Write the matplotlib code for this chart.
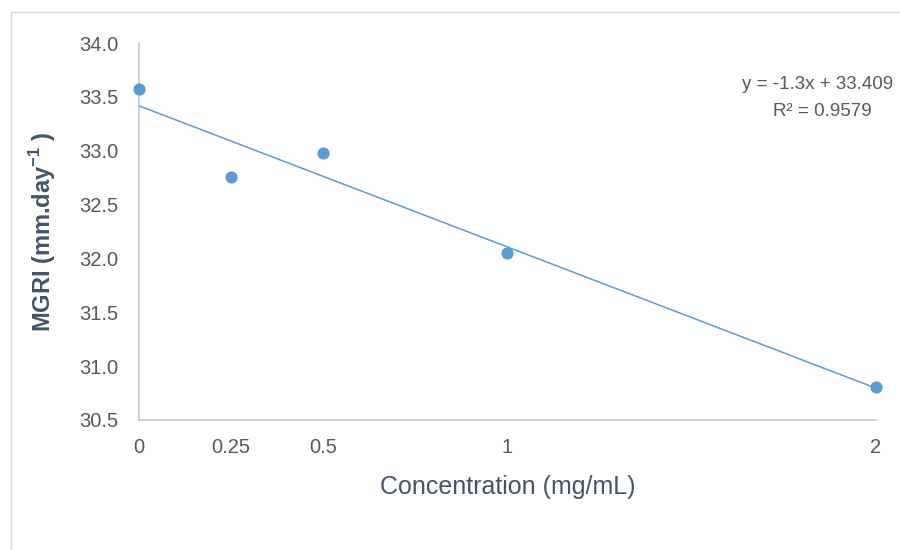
import numpy as np
import matplotlib.pyplot as plt
from matplotlib.patches import Rectangle

plt.rcParams['font.family'] = ['Liberation Sans', 'DejaVu Sans']

# Data
conc = [0, 0.25, 0.5, 1, 2]
mgri = [33.57, 32.76, 32.98, 32.05, 30.81]
x_ticks = [0, 0.25, 0.5, 1, 2]
x_tick_labels = ['0', '0.25', '0.5', '1', '2']
y_ticks = [30.5, 31.0, 31.5, 32.0, 32.5, 33.0, 33.5, 34.0]
eq_text = 'y = -1.3x + 33.409'
r2_text = 'R² = 0.9579'

blue = '#5B9BD5'
tick_col = '#595959'
label_col = '#44546A'

fig = plt.figure(figsize=(9, 5.5), dpi=100)
ax = fig.add_axes([0.1544, 0.2364, 0.8189, 0.6854])

# Linear trendline from the data
slope, intercept = np.polyfit(conc, mgri, 1)
xs = np.array([min(conc), max(conc)])
ax.plot(xs, slope * xs + intercept, color=blue, lw=1.1, clip_on=False)

ax.scatter(conc, mgri, s=60, color=blue, zorder=3, clip_on=False)

ax.set_xlim(0, 2)
ax.set_ylim(30.5, 34.0)
ax.set_xticks(x_ticks)
ax.set_xticklabels(x_tick_labels)
ax.set_yticks(y_ticks)
ax.set_yticklabels([f'{v:.1f}' for v in y_ticks])
ax.tick_params(length=0, labelsize=14.5, colors=tick_col)
ax.tick_params(axis='x', pad=13)
ax.tick_params(axis='y', pad=15)

for s in ['top', 'right']:
    ax.spines[s].set_visible(False)
for s in ['left', 'bottom']:
    ax.spines[s].set_color('#BFC8D6')
    ax.spines[s].set_linewidth(1.2)

ax.set_xlabel('Concentration (mg/mL)', fontsize=18, color=label_col, labelpad=13)
ax.set_ylabel('MGRI (mm.day$^{\\mathregular{-1}}$ )', fontsize=17, fontweight='bold',
              color=label_col, labelpad=15)

# Trendline equation
fig.text(0.824, 0.847, eq_text, fontsize=13.5, color=tick_col, ha='left', va='center')
fig.text(0.914, 0.797, r2_text, fontsize=13.5, color=tick_col, ha='center', va='center')

# light frame around the chart area
fig.patches.append(Rectangle((0.012, -0.05), 1.2, 1.028, transform=fig.transFigure,
                             fill=False, edgecolor='#D9D9D9', lw=1))

fig.savefig('out.png', dpi=100)
